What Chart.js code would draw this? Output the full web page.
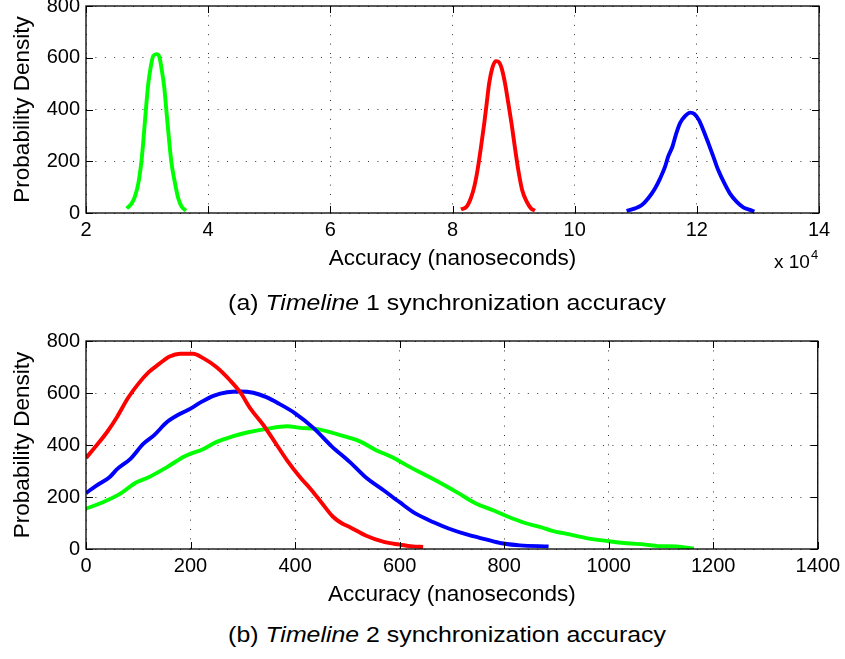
<!DOCTYPE html>
<html><head><meta charset="utf-8">
<script src="https://cdn.jsdelivr.net/npm/chart.js@4"></script>
<style>
html,body{margin:0;padding:0;background:#fff;width:845px;height:659px;overflow:hidden;position:relative;font-family:"Liberation Sans",Arial,Helvetica,sans-serif;color:#000;}
canvas{position:absolute;left:0;}
#c1{top:-20px;}
#c2{top:310px;}
.cap{position:absolute;left:447px;white-space:nowrap;font-size:22px;line-height:22px;transform:translateX(-50%) scaleX(1.13);}
#cap1{top:292px;}
#cap2{top:624px;}
#exp{position:absolute;left:774px;top:252px;font-size:19px;line-height:19px;white-space:nowrap;}
#exp span{font-size:13px;position:relative;top:-9px;margin-left:1px;}
</style></head>
<body>
<canvas id="c1" width="845" height="300"></canvas>
<canvas id="c2" width="845" height="310"></canvas>
<div id="exp">x 10<span>4</span></div>
<div class="cap" id="cap1">(a) <i>Timeline</i> 1 synchronization accuracy</div>
<div class="cap" id="cap2">(b) <i>Timeline</i> 2 synchronization accuracy</div>
<script>
// ---- Chart (a): Timeline 1 (x in units of 10^4 ns) ----
const topXTicks = [2, 4, 6, 8, 10, 12, 14];
const topYTicks = [0, 200, 400, 600, 800];
const greenTopX = [2.666, 2.748, 2.80, 2.857, 2.91, 2.94, 2.98, 3.02, 3.06, 3.10, 3.157, 3.20, 3.24, 3.28, 3.32, 3.36, 3.40, 3.457, 3.51, 3.567, 3.637];
const greenTopY = [18, 37, 63, 115, 205, 282, 398, 501, 565, 607, 614, 604, 553, 488, 385, 282, 192, 115, 57, 24, 9];
const redTopX = [8.139, 8.23, 8.30, 8.357, 8.41, 8.467, 8.52, 8.56, 8.60, 8.65, 8.707, 8.75, 8.805, 8.86, 8.914, 8.97, 9.02, 9.077, 9.14, 9.215, 9.285, 9.35];
const redTopY = [14, 24, 57, 102, 166, 256, 347, 424, 501, 559, 587, 585, 559, 501, 424, 340, 256, 166, 89, 44, 18, 9];
const blueTopX = [10.85, 10.99, 11.10, 11.205, 11.315, 11.40, 11.48, 11.53, 11.60, 11.655, 11.725, 11.81, 11.89, 11.96, 12.035, 12.105, 12.19, 12.27, 12.35, 12.45, 12.54, 12.65, 12.76, 12.87, 12.94];
const blueTopY = [8, 18, 31, 57, 95, 134, 179, 218, 256, 301, 347, 375, 388, 383, 359, 321, 269, 218, 166, 115, 76, 44, 22, 12, 5];

// ---- Chart (b): Timeline 2 (x in ns) ----
const botXTicks = [0, 200, 400, 600, 800, 1000, 1200, 1400];
const botYTicks = [0, 200, 400, 600, 800];
const redBotX = [0, 20, 40, 60, 80, 100, 120, 140, 160, 180, 205, 225, 250, 275, 295, 315, 340, 365, 385, 410, 430, 450, 472, 490, 505, 535, 570, 600, 625, 645];
const redBotY = [350, 398, 449, 510, 580, 635, 680, 712, 740, 751, 751, 733, 699, 650, 603, 539, 475, 400, 340, 275, 230, 180, 125, 98, 84, 52, 27, 17, 10, 8];
const blueBotX = [0, 20, 45, 60, 85, 110, 130, 155, 180, 200, 220, 245, 270, 295, 320, 345, 370, 400, 435, 470, 505, 535, 570, 600, 630, 665, 695, 730, 765, 795, 830, 885];
const blueBotY = [215, 244, 276, 308, 347, 405, 437, 488, 520, 540, 565, 590, 603, 606, 601, 584, 558, 522, 466, 395, 334, 276, 225, 180, 137, 103, 78, 55, 37, 22, 14, 10];
const greenBotX = [0, 30, 65, 95, 120, 155, 190, 225, 250, 280, 310, 345, 385, 410, 440, 470, 500, 525, 555, 585, 620, 650, 680, 715, 745, 780, 810, 840, 870, 890, 925, 955, 1000, 1035, 1070, 1095, 1130, 1145, 1163];
const greenBotY = [155, 178, 212, 255, 276, 315, 358, 385, 412, 433, 449, 462, 472, 466, 462, 448, 430, 413, 380, 354, 315, 284, 252, 212, 176, 148, 122, 100, 84, 71, 56, 43, 30, 22, 17, 11, 10, 6, 2];

const FONT = '"Liberation Sans", Arial, Helvetica, sans-serif';
const zip = (xs, ys) => xs.map((x, i) => ({x: x, y: ys[i]}));

const framePlugin = {
  id: 'frame',
  afterDraw(chart) {
    const ctx = chart.ctx, a = chart.chartArea, sx = chart.scales.x, sy = chart.scales.y;
    ctx.save();
    ctx.strokeStyle = '#000';
    ctx.lineWidth = 1;
    ctx.beginPath();
    sx.ticks.forEach(t => {
      const p = Math.round(sx.getPixelForValue(t.value)) + 0.5;
      ctx.moveTo(p, a.bottom); ctx.lineTo(p, a.bottom - 7);
      ctx.moveTo(p, a.top); ctx.lineTo(p, a.top + 7);
    });
    sy.ticks.forEach(t => {
      const p = Math.round(sy.getPixelForValue(t.value)) + 0.5;
      ctx.moveTo(a.left, p); ctx.lineTo(a.left + 7, p);
      ctx.moveTo(a.right, p); ctx.lineTo(a.right - 7, p);
    });
    ctx.stroke();
    ctx.lineWidth = 1.3;
    ctx.strokeRect(a.left, a.top, a.right - a.left, a.bottom - a.top);
    ctx.restore();
  }
};

function ds(data, color) {
  return {data: data, borderColor: color, backgroundColor: color, borderWidth: 3.9,
    pointRadius: 0, showLine: true, fill: false, cubicInterpolationMode: 'monotone',
    borderJoinStyle: 'round'};
}

function makeChart(id, datasets, xTicks, yTicks, pad) {
  const gridCommon = {color: 'rgba(0,0,0,0.8)', lineWidth: 1, drawTicks: false, borderDash: [1, 8.4]};
  return new Chart(document.getElementById(id), {
    type: 'scatter',
    data: {datasets: datasets},
    options: {
      responsive: false, animation: false,
      layout: {padding: pad},
      plugins: {legend: {display: false}, tooltip: {enabled: false}},
      scales: {
        x: {
          type: 'linear', position: 'bottom',
          min: xTicks[0], max: xTicks[xTicks.length - 1],
          afterBuildTicks: s => { s.ticks = xTicks.map(v => ({value: v})); },
          ticks: {color: '#000', padding: 5, font: {family: FONT, size: 20}, maxRotation: 0, autoSkip: false, callback: v => String(v)},
          grid: gridCommon,
          border: {display: false, dash: [1, 8.4]},
          title: {display: true, text: 'Accuracy (nanoseconds)', color: '#000', font: {family: FONT, size: 22.5}, padding: {top: 0, bottom: 1}},
          afterFit: s => { s.height = 60; }
        },
        y: {
          type: 'linear', position: 'left',
          min: yTicks[0], max: yTicks[yTicks.length - 1],
          afterBuildTicks: s => { s.ticks = yTicks.map(v => ({value: v})); },
          ticks: {color: '#000', padding: 6, font: {family: FONT, size: 20}, autoSkip: false, callback: v => String(v)},
          grid: gridCommon,
          border: {display: false, dash: [1, 8.4]},
          title: {display: true, text: 'Probability Density', color: '#000', font: {family: FONT, size: 22.5}, padding: {top: 9, bottom: 0}},
          afterFit: s => { s.width = 86; }
        }
      }
    },
    plugins: [framePlugin]
  });
}

makeChart('c1', [
  ds(zip(redTopX, redTopY), '#ff0000'),
  ds(zip(blueTopX, blueTopY), '#0000ff'),
  ds(zip(greenTopX, greenTopY), '#00ff00')
], topXTicks, topYTicks, {top: 26, left: 0, right: 26, bottom: 7});

makeChart('c2', [
  ds(zip(redBotX, redBotY), '#ff0000'),
  ds(zip(blueBotX, blueBotY), '#0000ff'),
  ds(zip(greenBotX, greenBotY), '#00ff00')
], botXTicks, botYTicks, {top: 31, left: 0, right: 26, bottom: 11});
</script>
</body></html>
